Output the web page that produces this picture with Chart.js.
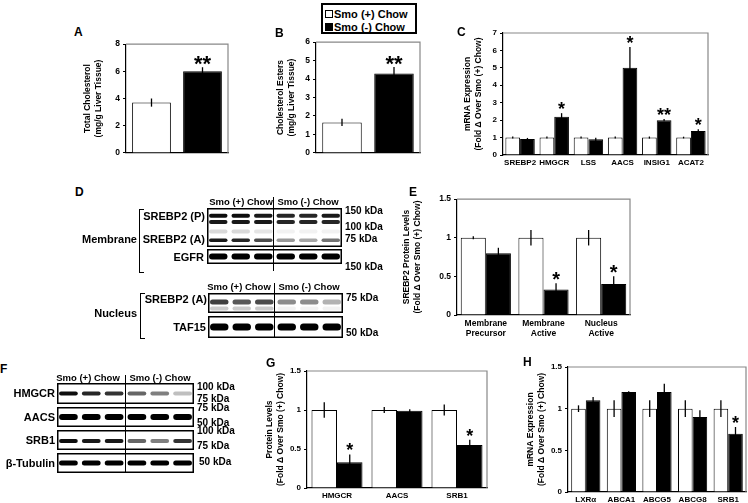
<!DOCTYPE html>
<html>
<head>
<meta charset="utf-8">
<script src="https://cdn.jsdelivr.net/npm/chart.js@4.4.1/dist/chart.umd.min.js"></script>
<style>
  body { margin: 0; width: 748px; height: 503px; position: relative; overflow: hidden; background: #fff;
         font-family: "Liberation Sans", Arial, sans-serif; font-weight: bold; color: #000; }
  .abs { position: absolute; }
  .t { white-space: nowrap; line-height: 1; }
  .vline { position: absolute; width: 0; border-left: 1.5px solid #000; }
  .brk { position: absolute; width: 4px; border: 1.5px solid #000; border-right: none; }
  #legend { left: 321px; top: 3px; width: 96px; height: 31px; border: 2px solid #000; box-sizing: border-box;
            font-size: 11px; padding: 2px 0 0 2px; }
  #legend div { display: flex; align-items: center; height: 13px; }
  #legend span.sq { display: inline-block; width: 6px; height: 6px; border: 1px solid #000; margin-right: 1px; }
</style>
</head>
<body>
<div id="legend" class="abs">
  <div><span class="sq" style="background:#fff"></span>Smo (+) Chow</div>
  <div><span class="sq" style="background:#000"></span>Smo (-) Chow</div>
</div>
<canvas id="chartA" class="abs"></canvas>
<canvas id="chartB" class="abs"></canvas>
<canvas id="chartC" class="abs"></canvas>
<canvas id="chartE" class="abs"></canvas>
<canvas id="chartG" class="abs"></canvas>
<canvas id="chartH" class="abs"></canvas>
<script>
// A - total cholesterol
const aTicks = [0, 2, 4, 6, 8];
const aWhite = [3.7], aWhiteErr = [0.3];
const aBlack = [6.0], aBlackErr = [0.3];
const aStars = ['**'];

// B - cholesterol esters
const bTicks = [0, 1, 2, 3, 4, 5, 6];
const bWhite = [1.65], bWhiteErr = [0.2];
const bBlack = [4.3], bBlackErr = [0.35];
const bStars = ['**'];

// C - mRNA expression, cholesterol synthesis genes
const cGenes = ['SREBP2', 'HMGCR', 'LSS', 'AACS', 'INSIG1', 'ACAT2'];
const cTicks = [0, 1, 2, 3, 4, 5, 6, 7];
const cWhite = [1, 1, 1, 1, 1, 1];
const cWhiteErr = [0.06, 0.06, 0.06, 0.06, 0.06, 0.05];
const cBlack = [0.92, 2.2, 0.9, 5.0, 2.0, 1.38];
const cBlackErr = [0.06, 0.2, 0.09, 1.2, 0.06, 0.1];
const cStars = ['', '*', '', '*', '**', '*'];

// E - SREBP2 protein levels
const eGroups = [['Membrane', 'Precursor'], ['Membrane', 'Active'], ['Nucleus', 'Active']];
const eTicks = [0, 0.5, 1, 1.5];
const eWhite = [1, 1, 1], eWhiteErr = [0.02, 0.1, 0.1];
const eBlack = [0.8, 0.33, 0.4], eBlackErr = [0.07, 0.08, 0.1];
const eStars = ['', '*', '*'];

// G - protein levels
const gProteins = ['HMGCR', 'AACS', 'SRB1'];
const gTicks = [0, 0.5, 1, 1.5];
const gWhite = [1, 1, 1], gWhiteErr = [0.1, 0.04, 0.07];
const gBlack = [0.33, 0.99, 0.55], gBlackErr = [0.1, 0.02, 0.07];
const gStars = ['*', '', '*'];

// H - mRNA expression, efflux genes
const hGenes = ['LXRα', 'ABCA1', 'ABCG5', 'ABCG8', 'SRB1'];
const hTicks = [0, 0.5, 1, 1.5];
const hWhite = [1, 1, 1, 1, 1], hWhiteErr = [0.04, 0.1, 0.1, 0.1, 0.1];
const hBlack = [1.1, 1.2, 1.2, 0.9, 0.7], hBlackErr = [0.04, 0.01, 0.1, 0.08, 0.08];
const hStars = ['', '', '', '', '*'];

const FONT = '"Liberation Sans", Arial, sans-serif';

// error bars + significance stars, placed with the chart's own y scale
const errorBars = {
  id: 'errorBars',
  afterDatasetsDraw(chart) {
    const ctx = chart.ctx, y = chart.scales.y;
    const starSize = chart.options.starSize || 18;
    chart.data.datasets.forEach((ds, i) => {
      chart.getDatasetMeta(i).data.forEach((bar, j) => {
        const v = ds.data[j], e = ds.errors[j];
        const top = y.getPixelForValue(v + e), bot = y.getPixelForValue(v - e);
        ctx.save();
        ctx.strokeStyle = '#000';
        ctx.lineWidth = 1.3;
        ctx.beginPath();
        ctx.moveTo(bar.x, top);
        ctx.lineTo(bar.x, bot);
        ctx.stroke();
        if (ds.stars && ds.stars[j]) {
          ctx.fillStyle = '#000';
          ctx.font = 'bold ' + starSize + 'px ' + FONT;
          ctx.textAlign = 'center';
          ctx.textBaseline = 'alphabetic';
          ctx.fillText(ds.stars[j], bar.x, top - 7 + starSize * 0.5);
        }
        ctx.restore();
      });
    });
  }
};

// grey frame round the plot area
const frame = {
  id: 'frame',
  afterDraw(chart) {
    const a = chart.chartArea, ctx = chart.ctx;
    ctx.save();
    ctx.strokeStyle = '#888';
    ctx.lineWidth = 1.2;
    ctx.beginPath();
    ctx.moveTo(a.left, a.top);
    ctx.lineTo(a.right, a.top);
    ctx.lineTo(a.right, a.bottom);
    ctx.stroke();
    ctx.restore();
  }
};

function barPanel(id, o) {
  const el = document.getElementById(id);
  const padTop = 8, padRight = 2;
  const w = o.yw + (o.r - o.l) + padRight;
  const h = padTop + (o.b - o.t) + o.xh;
  el.width = w; el.height = h;
  el.style.width = w + 'px'; el.style.height = h + 'px';
  el.style.left = (o.l - o.yw) + 'px';
  el.style.top = (o.t - padTop) + 'px';
  return new Chart(el, {
    type: 'bar',
    data: {
      labels: o.labels,
      datasets: [
        { label: 'Smo (+) Chow', data: o.white, errors: o.whiteErr,
          backgroundColor: '#fff', borderColor: '#000', borderWidth: 1,
          categoryPercentage: o.cat, barPercentage: o.bar },
        { label: 'Smo (-) Chow', data: o.black, errors: o.blackErr, stars: o.stars,
          backgroundColor: '#000', borderColor: '#000', borderWidth: 1,
          categoryPercentage: o.cat, barPercentage: o.bar }
      ]
    },
    options: {
      responsive: false,
      animation: false,
      starSize: o.starSize,
      layout: { padding: { top: padTop, right: padRight, left: 0, bottom: 0 } },
      plugins: { legend: { display: false }, tooltip: { enabled: false } },
      scales: {
        x: {
          grid: { display: false, drawTicks: false },
          border: { color: '#000', width: 1.2 },
          ticks: { display: o.showX, color: '#000', padding: 3, maxRotation: 0, autoSkip: false,
                   font: { family: FONT, weight: 'bold', size: o.xFont || 8, lineHeight: 1.25 } },
          afterFit(s) { s.height = o.xh; }
        },
        y: {
          min: 0,
          max: o.ticks[o.ticks.length - 1],
          afterBuildTicks(s) { s.ticks = o.ticks.map(v => ({ value: v })); },
          grid: { drawOnChartArea: false, tickLength: 3, color: '#000' },
          border: { color: '#000', width: 1.2 },
          ticks: { color: '#000', padding: 3, callback: v => String(v),
                   font: { family: FONT, weight: 'bold', size: o.yFont || 8 } },
          title: { display: true, text: o.title, color: '#000', padding: { top: 0, bottom: 0 },
                   font: { family: FONT, weight: 'bold', size: 8.5, lineHeight: 1.2 } },
          afterFit(s) { s.width = o.yw; }
        }
      }
    },
    plugins: [errorBars, frame]
  });
}

barPanel('chartA', { l: 126, t: 44, r: 228, b: 157, yw: 43, xh: 4, showX: false, labels: [''],
  white: aWhite, whiteErr: aWhiteErr, black: aBlack, blackErr: aBlackErr, stars: aStars,
  ticks: aTicks, cat: 1.0, bar: 0.76, starSize: 22, yFont: 8.5,
  title: ['Total Cholesterol', '(mg/g Liver Tissue)'] });

barPanel('chartB', { l: 316, t: 42, r: 420, b: 157, yw: 40, xh: 4, showX: false, labels: [''],
  white: bWhite, whiteErr: bWhiteErr, black: bBlack, blackErr: bBlackErr, stars: bStars,
  ticks: bTicks, cat: 1.0, bar: 0.76, starSize: 22, yFont: 8.5,
  title: ['Cholesterol Esters', '(mg/g Liver Tissue)'] });

barPanel('chartC', { l: 503, t: 33, r: 708, b: 155, yw: 40, xh: 16, showX: true, labels: cGenes,
  white: cWhite, whiteErr: cWhiteErr, black: cBlack, blackErr: cBlackErr, stars: cStars,
  ticks: cTicks, cat: 0.86, bar: 1.0, starSize: 18,
  title: ['mRNA Expression', '(Fold \u0394 Over Smo (+) Chow)'] });

barPanel('chartE', { l: 457, t: 199, r: 630, b: 315, yw: 55, xh: 28, showX: true, labels: eGroups,
  white: eWhite, whiteErr: eWhiteErr, black: eBlack, blackErr: eBlackErr, stars: eStars,
  ticks: eTicks, cat: 0.87, bar: 1.0, starSize: 20, xFont: 8.5, yFont: 8.5,
  title: ['SREBP2 Protein Levels', '(Fold \u0394 Over Smo (+) Chow)'] });

barPanel('chartG', { l: 307, t: 371, r: 487, b: 488, yw: 42, xh: 15, showX: true, labels: gProteins,
  white: gWhite, whiteErr: gWhiteErr, black: gBlack, blackErr: gBlackErr, stars: gStars,
  ticks: gTicks, cat: 0.85, bar: 1.0, starSize: 18,
  title: ['Protein Levels', '(Fold \u0394 Over Smo (+) Chow)'] });

barPanel('chartH', { l: 568, t: 367, r: 746, b: 492, yw: 42, xh: 11, showX: true, labels: hGenes,
  white: hWhite, whiteErr: hWhiteErr, black: hBlack, blackErr: hBlackErr, stars: hStars,
  ticks: hTicks, cat: 0.82, bar: 1.0, starSize: 18,
  title: ['mRNA Expression', '(Fold \u0394 Over Smo (+) Chow)'] });

// plain text helpers for the blot panels and panel letters
function txt(s, x, cy, size, align) {
  const d = document.createElement('div');
  d.className = 'abs t';
  d.textContent = s;
  d.style.fontSize = size + 'px';
  d.style.top = (cy - 0.49 * size) + 'px';
  if (align === 'right') d.style.right = (748 - x) + 'px';
  else if (align === 'center') { d.style.left = x + 'px'; d.style.transform = 'translateX(-50%)'; }
  else d.style.left = x + 'px';
  document.body.appendChild(d);
}
function vline(x, y1, y2) {
  const d = document.createElement('div');
  d.className = 'vline';
  d.style.left = x + 'px'; d.style.top = y1 + 'px'; d.style.height = (y2 - y1) + 'px';
  document.body.appendChild(d);
}
function bracket(x, y1, y2) {
  const d = document.createElement('div');
  d.className = 'brk';
  d.style.left = x + 'px'; d.style.top = y1 + 'px'; d.style.height = (y2 - y1) + 'px';
  document.body.appendChild(d);
}
// western blot strip: six lanes, each row = band height position, thickness and darkness per lane
function blot(x, y, w, h, rows) {
  const c = document.createElement('canvas');
  c.className = 'abs';
  c.width = w; c.height = h;
  c.style.left = x + 'px'; c.style.top = y + 'px';
  const ctx = c.getContext('2d');
  ctx.fillStyle = '#fff';
  ctx.fillRect(0, 0, w, h);
  const lane = w / 6;
  rows.forEach(r => {
    r.levels.forEach((lv, i) => {
      ctx.save();
      ctx.filter = 'blur(0.7px)';
      ctx.globalAlpha = lv;
      ctx.fillStyle = '#000';
      const bw = lane * 0.82, bh = r.thick;
      ctx.beginPath();
      ctx.roundRect(lane * (i + 0.5) - bw / 2, h * r.pos - bh / 2, bw, bh, bh / 2);
      ctx.fill();
      ctx.restore();
    });
  });
  ctx.strokeStyle = '#000';
  ctx.lineWidth = 1.5;
  ctx.strokeRect(0.75, 0.75, w - 1.5, h - 1.5);
  document.body.appendChild(c);
}

const full = [1, 1, 1, 1, 1, 1];

// panel letters
txt('A', 74, 32, 12); txt('B', 275, 33, 12); txt('C', 457, 32, 12); txt('D', 75, 192, 12);
txt('E', 409, 192, 12); txt('F', 0, 369, 12); txt('G', 266, 363, 12); txt('H', 523, 362, 12);

// D - membrane blots
txt('Smo (+) Chow', 241, 202, 9.5, 'center'); txt('Smo (-) Chow', 308, 202, 9.5, 'center');
blot(207, 208, 135, 39, [
  { pos: 0.2, thick: 4, levels: [0.95, 0.95, 0.9, 0.85, 0.85, 0.9] },
  { pos: 0.36, thick: 4, levels: [0.9, 0.9, 0.9, 0.85, 0.85, 0.85] },
  { pos: 0.6, thick: 4, levels: [0.15, 0.15, 0.1, 0.05, 0.05, 0.05] },
  { pos: 0.83, thick: 3.5, levels: [0.9, 0.85, 0.7, 0.4, 0.35, 0.55] }
]);
blot(207, 249, 135, 15, [{ pos: 0.5, thick: 6, levels: full }]);
vline(273, 197, 271);
txt('SREBP2 (P)', 205, 216, 11, 'right');
txt('SREBP2 (A)', 205, 239, 11, 'right');
txt('Membrane', 137, 239, 11, 'right');
txt('EGFR', 204, 257, 11, 'right');
bracket(139, 209, 271);
txt('150 kDa', 345, 211, 10); txt('100 kDa', 345, 227, 10); txt('75 kDa', 345, 239, 10);
txt('150 kDa', 345, 267, 10);

// D - nucleus blots
txt('Smo (+) Chow', 239, 287, 9.5, 'center'); txt('Smo (-) Chow', 309, 287, 9.5, 'center');
blot(208, 293, 135, 20, [
  { pos: 0.45, thick: 5, levels: [0.75, 0.65, 0.7, 0.45, 0.45, 0.3] },
  { pos: 0.78, thick: 4, levels: [0.2, 0.2, 0.2, 0.05, 0.05, 0.05] }
]);
blot(208, 316, 135, 22, [{ pos: 0.5, thick: 7, levels: full }]);
vline(274, 283, 338);
txt('SREBP2 (A)', 207, 299, 11, 'right');
txt('Nucleus', 137, 313, 11, 'right');
txt('TAF15', 206, 327, 11, 'right');
bracket(140, 293, 337);
txt('75 kDa', 346, 298, 10); txt('50 kDa', 346, 333, 10);

// F - whole liver blots
txt('Smo (+) Chow', 88, 378, 9.5, 'center'); txt('Smo (-) Chow', 160, 378, 9.5, 'center');
blot(57, 383, 137, 21, [{ pos: 0.5, thick: 4, levels: [0.95, 0.85, 0.8, 0.6, 0.5, 0.25] }]);
blot(57, 407, 137, 20, [{ pos: 0.5, thick: 6, levels: full }]);
blot(57, 430, 137, 20, [{ pos: 0.55, thick: 4, levels: [0.95, 0.9, 0.9, 0.6, 0.5, 0.8] }]);
blot(57, 453, 137, 20, [{ pos: 0.5, thick: 5, levels: full }]);
vline(125, 375, 473);
txt('HMGCR', 55, 393, 11, 'right'); txt('AACS', 55, 417, 11, 'right');
txt('SRB1', 55, 440, 11, 'right'); txt('\u03B2-Tubulin', 55, 463, 11, 'right');
txt('100 kDa', 197, 387, 10); txt('75 kDa', 197, 399, 10); txt('75 kDa', 197, 408, 10);
txt('50 kDa', 197, 423, 10); txt('100 kDa', 197, 431, 10); txt('75 kDa', 197, 446, 10);
txt('50 kDa', 199, 462, 10);
</script>
</body>
</html>
